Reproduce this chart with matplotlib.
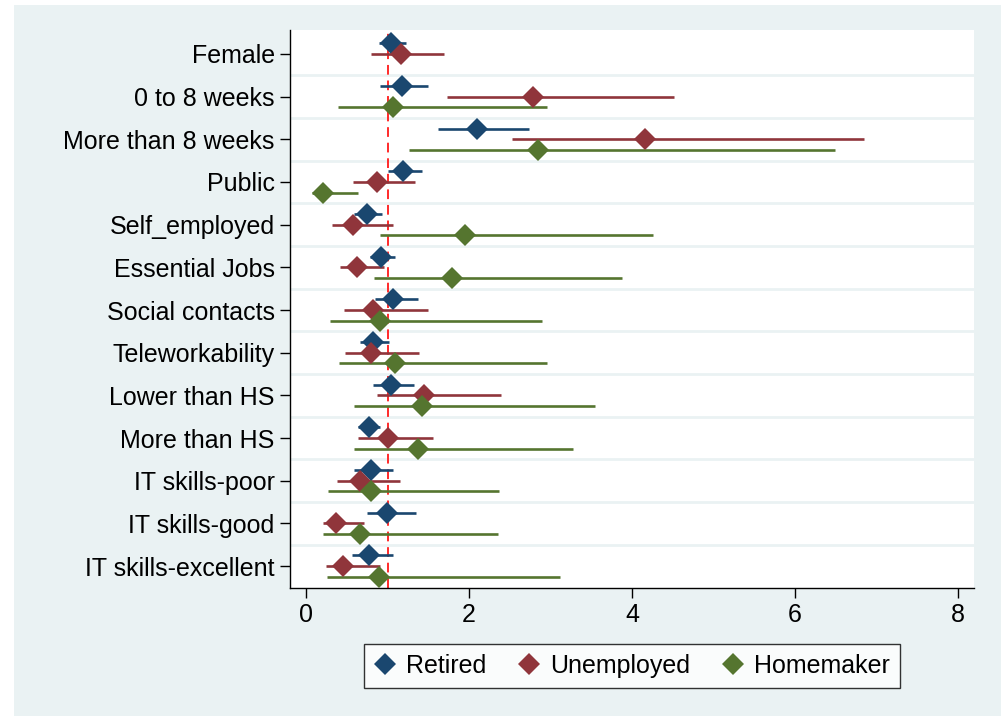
import numpy as np
import matplotlib
matplotlib.use("Agg")
import matplotlib.pyplot as plt
from matplotlib.lines import Line2D
from matplotlib.patches import Rectangle

plt.rcParams['font.family'] = ['Liberation Sans', 'DejaVu Sans']

categories = ["Female", "0 to 8 weeks", "More than 8 weeks", "Public",
              "Self_employed", "Essential Jobs", "Social contacts",
              "Teleworkability", "Lower than HS", "More than HS",
              "IT skills-poor", "IT skills-good", "IT skills-excellent"]

nan = np.nan
# odds ratios with 95% confidence bounds
retired_est = [1.04, 1.17, 2.10, 1.19, 0.74, 0.92, 1.06, 0.82, 1.04, 0.77, 0.79, 0.99, 0.77]
retired_lo  = [0.89, 0.91, 1.62, 1.00, 0.59, 0.78, 0.84, 0.66, 0.82, 0.64, 0.59, 0.74, 0.56]
retired_hi  = [1.22, 1.50, 2.73, 1.42, 0.93, 1.09, 1.37, 1.02, 1.32, 0.91, 1.06, 1.35, 1.07]

unemployed_est = [1.16, 2.79, 4.16, 0.87, 0.57, 0.62, 0.82, 0.80, 1.44, 1.00, 0.66, 0.37, 0.45]
unemployed_lo  = [0.80, 1.73, 2.53, 0.57, 0.31, 0.42, 0.46, 0.47, 0.87, 0.64, 0.38, 0.20, 0.24]
unemployed_hi  = [1.69, 4.51, 6.85, 1.33, 1.07, 0.95, 1.49, 1.39, 2.39, 1.55, 1.15, 0.71, 0.90]

homemaker_est = [nan, 1.06, 2.85, 0.20, 1.95, 1.79, 0.91, 1.09, 1.42, 1.37, 0.79, 0.66, 0.89]
homemaker_lo  = [nan, 0.39, 1.26, 0.07, 0.90, 0.83, 0.29, 0.40, 0.58, 0.58, 0.27, 0.20, 0.25]
homemaker_hi  = [nan, 2.96, 6.49, 0.64, 4.26, 3.88, 2.90, 2.96, 3.54, 3.27, 2.37, 2.35, 3.12]

series_names = ["Retired", "Unemployed", "Homemaker"]
x_ticks = [0, 2, 4, 6, 8]

colors = ["#1a476f", "#90353b", "#55752f"]
offsets = [-0.25, 0.0, 0.25]
bg = "#EAF2F3"

W, H = 1004, 716
fig = plt.figure(figsize=(W / 100, H / 100), dpi=100, facecolor="white")
fig.patches.append(Rectangle((14 / W, 0), (1001 - 14) / W, (H - 5) / H,
                             transform=fig.transFigure, facecolor=bg,
                             edgecolor="none", zorder=-10))

left, right, top, bottom = 290, 974, 30, 587.5
ax = fig.add_axes([left / W, (H - bottom) / H, (right - left) / W, (bottom - top) / H])
ax.set_facecolor("white")

n = len(categories)
ypos = np.arange(n)

# separators between groups
for k in range(n - 1):
    ax.axhline(k + 0.5, color=bg, lw=2.0, zorder=1)

ax.axvline(1, color="#FF2A2A", lw=1.4, ls=(0, (5, 3)), zorder=2)

data = [(retired_est, retired_lo, retired_hi),
        (unemployed_est, unemployed_lo, unemployed_hi),
        (homemaker_est, homemaker_lo, homemaker_hi)]

ms = 11.5
for (est, lo, hi), c, off in zip(data, colors, offsets):
    est = np.asarray(est); lo = np.asarray(lo); hi = np.asarray(hi)
    y = ypos + off
    ax.hlines(y, lo, hi, color=c, lw=1.9, zorder=3)
    ax.plot(est, y, linestyle="none", marker="D", ms=ms, color=c,
            markeredgewidth=0, zorder=4)

ax.set_ylim(n - 0.5, -0.56)
ax.set_xlim(-0.2, 8.2)
ax.set_yticks(ypos)
ax.set_yticklabels(categories, fontsize=18)
ax.set_xticks(x_ticks)
ax.set_xticklabels([str(v) for v in x_ticks], fontsize=18)

for s in ["top", "right"]:
    ax.spines[s].set_visible(False)
for s in ["left", "bottom"]:
    ax.spines[s].set_linewidth(1.0)
    ax.spines[s].set_color("black")

ax.tick_params(axis="y", length=7, width=1, pad=4)
ax.tick_params(axis="x", length=7, width=1, pad=4)

handles = [Line2D([], [], linestyle="none", marker="D", ms=ms, color=c,
                  markeredgewidth=0) for c in colors]
leg = fig.legend(handles, series_names, loc="center",
                 bbox_to_anchor=(632 / W, (H - 666) / H), ncol=3,
                 fontsize=18, frameon=True, fancybox=False,
                 handlelength=0.9, handletextpad=0.4, columnspacing=1.25,
                 borderpad=0.4, edgecolor="black")
leg.get_frame().set_linewidth(1.0)
leg.get_frame().set_facecolor("white")

fig.savefig("out.png", dpi=100, facecolor="white")
